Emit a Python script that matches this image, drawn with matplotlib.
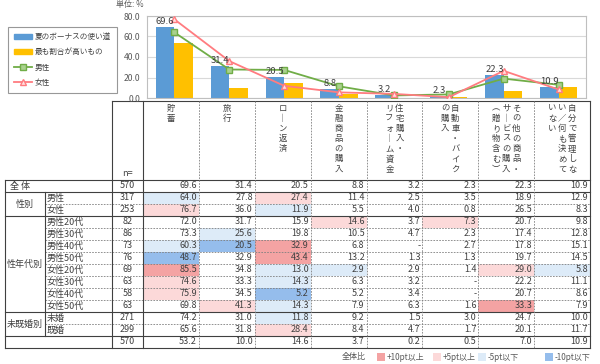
import numpy as np
import matplotlib.pyplot as plt
from matplotlib.patches import Rectangle, Patch
from matplotlib.lines import Line2D

plt.rcParams['font.family'] = ['Noto Sans CJK JP', 'DejaVu Sans']

# column headers, written vertically (lines listed right to left)
header_lines = [['貯蓄'], ['旅行'], ['ローン返済'], ['金融商品の購入'],
                ['住宅購入・', 'リフォーム資金'], ['自動車・バイク', 'の購入'],
                ['その他の商品・', 'サービスの購入', '（贈り物含む）'],
                ['自分で管理しな', 'い／何も決めて', 'いない']]

row_names = ['全 体', '男性', '女性', '男性20代', '男性30代', '男性40代', '男性50代',
             '女性20代', '女性30代', '女性40代', '女性50代', '未婚', '既婚', '']
groups = [('全 体', 0, 1), ('性別', 1, 3), ('性年代別', 3, 11), ('未既婚別', 11, 13), ('', 13, 14)]
n_values = [570, 317, 253, 82, 86, 73, 76, 69, 63, 58, 63, 271, 299, 570]

all_row = [69.6, 31.4, 20.5, 8.8, 3.2, 2.3, 22.3, 10.9]
male = [64.0, 27.8, 27.4, 11.4, 2.5, 3.5, 18.9, 12.9]
female = [76.7, 36.0, 11.9, 5.5, 4.0, 0.8, 26.5, 8.3]
male20 = [72.0, 31.7, 15.9, 14.6, 3.7, 7.3, 20.7, 9.8]
male30 = [73.3, 25.6, 19.8, 10.5, 4.7, 2.3, 17.4, 12.8]
male40 = [60.3, 20.5, 32.9, 6.8, None, 2.7, 17.8, 15.1]
male50 = [48.7, 32.9, 43.4, 13.2, 1.3, 1.3, 19.7, 14.5]
female20 = [85.5, 34.8, 13.0, 2.9, 2.9, 1.4, 29.0, 5.8]
female30 = [74.6, 33.3, 14.3, 6.3, 3.2, None, 22.2, 11.1]
female40 = [75.9, 34.5, 5.2, 5.2, 3.4, None, 20.7, 8.6]
female50 = [69.8, 41.3, 14.3, 7.9, 6.3, 1.6, 33.3, 7.9]
single = [74.2, 31.0, 11.8, 9.2, 1.5, 3.0, 24.7, 10.0]
married = [65.6, 31.8, 28.4, 8.4, 4.7, 1.7, 20.1, 11.7]
most_common = [53.2, 10.0, 14.6, 3.7, 0.2, 0.5, 7.0, 10.9]

rows = [all_row, male, female, male20, male30, male40, male50,
        female20, female30, female40, female50, single, married, most_common]

legend_steps = ['+10pt以上', '+5pt以上', '-5pt以下', '-10pt以下']
step_colors = ['#F4A3A3', '#FCD9D9', '#DDEBF8', '#95BDEC']


def cell_color(v, base):
    if v is None:
        return None
    d = round(v - base, 1)
    if d >= 10:
        return step_colors[0]
    if d >= 5:
        return step_colors[1]
    if d <= -10:
        return step_colors[3]
    if d <= -5:
        return step_colors[2]
    return None


fig = plt.figure(figsize=(6, 3.64), dpi=100)

# table drawn in pixel coordinates
tb = fig.add_axes([0, 0, 1, 1])
tb.set_xlim(0, 600)
tb.set_ylim(364, 0)
tb.axis('off')

x_left, x_grp, x_n, x_data, x_right = 5, 45, 112, 143, 590
ncol = len(header_lines)
col_w = (x_right - x_data) / ncol
y_head, y_rows, row_h = 101, 180, 12
y_bot = y_rows + len(rows) * row_h
txt = '#404040'
fs = 6.5

vert = {'ー': '｜', '（': '︵', '）': '︶'}
for j, lines in enumerate(header_lines):
    cx = x_data + (j + 0.5) * col_w
    k = len(lines)
    for li, line in enumerate(lines):
        lx = cx + ((k - 1) / 2 - li) * 10
        for m, ch in enumerate(line):
            tb.text(lx, 108 + m * 10.2, vert.get(ch, ch), ha='center', va='center',
                    fontsize=6, color=txt)
tb.text((x_n + x_data) / 2, 173, 'n=', ha='center', va='center', fontsize=fs, color=txt)

for i, row in enumerate(rows):
    yc = y_rows + (i + 0.5) * row_h
    for j, v in enumerate(row):
        if 0 < i < len(rows) - 1:
            c = cell_color(v, all_row[j])
            if c:
                tb.add_patch(Rectangle((x_data + j * col_w, y_rows + i * row_h), col_w, row_h,
                                       fc=c, ec='none'))
        s = '-' if v is None else f'{v:.1f}'
        tb.text(x_data + (j + 1) * col_w - 2, yc, s, ha='right', va='center',
                fontsize=fs, color=txt)
    tb.text((x_n + x_data) / 2, yc, str(n_values[i]), ha='center', va='center',
            fontsize=fs, color=txt)
    if row_names[i] and row_names[i] != '全 体':
        tb.text(x_grp + 2, yc, row_names[i], ha='left', va='center', fontsize=fs, color=txt)

for name, a, b in groups:
    yc = y_rows + (a + b) / 2 * row_h
    if name == '全 体':
        tb.text(x_left + 5, yc, name, ha='left', va='center', fontsize=fs, color=txt)
    elif name:
        tb.text((x_left + x_grp) / 2, yc, name, ha='center', va='center', fontsize=fs, color=txt)

# grid lines
line_c = '#404040'
for b in [0, 1, 3, 11, 13, 14]:
    tb.plot([x_left, x_right], [y_rows + b * row_h] * 2, color=line_c, lw=0.8)
for b in [2, 4, 5, 6, 7, 8, 9, 10, 12]:
    tb.plot([x_grp, x_right], [y_rows + b * row_h] * 2, color='#808080', lw=0.6, ls=(0, (2, 1.5)))
tb.plot([x_n, x_right], [y_head, y_head], color=line_c, lw=0.8)
tb.plot([x_left, x_left], [y_rows, y_bot], color=line_c, lw=0.8)
tb.plot([x_grp, x_grp], [y_rows + row_h, y_bot - row_h], color=line_c, lw=0.8)
for xv in [x_n, x_data, x_right]:
    tb.plot([xv, xv], [y_head, y_bot], color=line_c, lw=0.8)
for j in range(1, ncol):
    xv = x_data + j * col_w
    tb.plot([xv, xv], [y_head, y_bot], color='#808080', lw=0.6, ls=(0, (2, 1.5)))

# colour key below the table
tb.text(366, 357, '全体比', ha='right', va='center', fontsize=5.8, color='#595959')
key_x = [377, 433, 478, 545]
for kx, lab, c in zip(key_x, legend_steps, step_colors):
    tb.add_patch(Rectangle((kx, 353), 8, 8, fc=c, ec='none'))
    tb.text(kx + 10, 357, lab, ha='left', va='center', fontsize=5.8, color='#595959')

tb.text(116, 5, '単位: %', ha='left', va='center', fontsize=5.8, color='#595959')

# chart
ax = fig.add_axes([147 / 600, 1 - 98 / 364, 439 / 600, 82 / 364])
x = np.arange(len(all_row))
w = 0.34
blue, orange, green, red = '#5B9BD5', '#FFC000', '#70AD47', '#FF7C80'
ax.bar(x - w / 2, all_row, w, color=blue, zorder=2)
ax.bar(x + w / 2, most_common, w, color=orange, zorder=2)
ax.plot(x, male, color=green, marker='s', ms=4, mfc='#A9D18E', mec=green, lw=1.3, zorder=3)
ax.plot(x, female, color=red, marker='^', ms=4.5, mfc='#FFE0E0', mec=red, lw=1.3, zorder=3)
for xi, v in zip(x, all_row):
    ax.annotate(f'{v:.1f}', (xi - w / 2, v), xytext=(0, 0.5), textcoords='offset points',
                ha='center', va='bottom', fontsize=6.8, color='#404040', zorder=4)
ax.set_xlim(-0.5, ncol - 0.5)
ax.set_ylim(0, 80)
ax.set_yticks(np.arange(0, 81, 20))
ax.set_yticklabels([f'{t:.1f}' for t in np.arange(0, 81, 20)])
ax.tick_params(axis='y', length=0, labelsize=6.2, labelcolor='#595959', pad=5)
ax.set_xticks([])
ax.grid(axis='y', color='#D9D9D9', lw=0.8)
ax.set_axisbelow(True)
for s in ax.spines.values():
    s.set_color('#BFBFBF')
    s.set_linewidth(0.8)

handles = [Patch(color=blue), Patch(color=orange),
           Line2D([], [], color=green, marker='s', ms=4, mfc='#A9D18E', mec=green, lw=1.3),
           Line2D([], [], color=red, marker='^', ms=4.5, mfc='#FFE0E0', mec=red, lw=1.3)]
labels = ['夏のボーナスの使い道', '最も割合が高いもの', '男性', '女性']
leg = fig.legend(handles, labels, loc='upper left', bbox_to_anchor=(8 / 600, 1 - 27 / 364),
                 fontsize=5.5, frameon=True, fancybox=False, edgecolor='#7F7F7F',
                 labelspacing=0.95, borderpad=0.8, handlelength=2.4, handletextpad=0.3,
                 handleheight=0.6, borderaxespad=0)
leg.get_frame().set_linewidth(0.8)
for t in leg.get_texts():
    t.set_color('#404040')

fig.savefig('out.png', dpi=100)
